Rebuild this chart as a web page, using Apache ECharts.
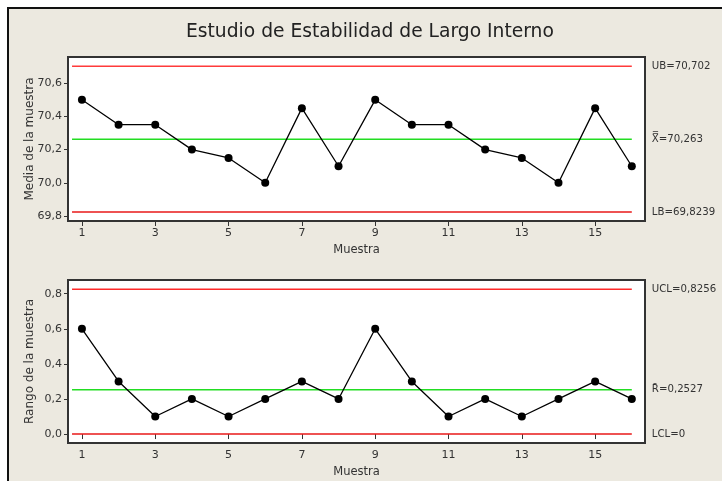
<!DOCTYPE html>
<html>
<head>
<meta charset="utf-8">
<script src="https://cdn.jsdelivr.net/npm/echarts@6/dist/echarts.min.js"></script>
<style>
  html, body { margin: 0; padding: 0; background: #ffffff; }
  #frame { position: absolute; left: 7px; top: 7px; width: 715px; height: 474px;
           border-left: 2px solid #111; border-top: 2px solid #111; box-sizing: border-box; background: #ece9e0; }
  #chart { position: absolute; left: 0; top: 0; width: 722px; height: 481px; }
</style>
</head>
<body>
<div id="frame"></div>
<div id="chart"></div>
<script>
// Sample numbers (subgroups)
const samples = [1, 2, 3, 4, 5, 6, 7, 8, 9, 10, 11, 12, 13, 14, 15, 16];
// Subgroup means
const means = [70.5, 70.35, 70.35, 70.2, 70.15, 70.0, 70.45, 70.1,
               70.5, 70.35, 70.35, 70.2, 70.15, 70.0, 70.45, 70.1];
// Subgroup ranges
const ranges = [0.6, 0.3, 0.1, 0.2, 0.1, 0.2, 0.3, 0.2,
                0.6, 0.3, 0.1, 0.2, 0.1, 0.2, 0.3, 0.2];
// Control limits for the means chart
const meanLimits = { ub: 70.702, center: 70.263, lb: 69.8239 };
// Control limits for the range chart
const rangeLimits = { ucl: 0.8256, center: 0.2527, lcl: 0 };
// Tick labels
const xTicks = [1, 3, 5, 7, 9, 11, 13, 15];
const meanTicks = [69.8, 70.0, 70.2, 70.4, 70.6];
const rangeTicks = [0.0, 0.2, 0.4, 0.6, 0.8];
// Where the limit lines start/end along the sample axis
const limitSpan = [0.73, 16];

const FONT = 'DejaVu Sans';
const textColor = '#333';
const comma = v => v.toFixed(1).replace('.', ',');

function limitLine(gridIdx, value, color, label) {
  return {
    type: 'line', xAxisIndex: gridIdx, yAxisIndex: gridIdx,
    data: [[limitSpan[0], value], [limitSpan[1], value]],
    symbol: 'none', silent: true, animation: false,
    lineStyle: { color: color, width: 1.5 },
    endLabel: { show: true, formatter: label, distance: 20,
                color: textColor, fontSize: 10.2, fontFamily: FONT }
  };
}

function dataLine(gridIdx, values) {
  return {
    type: 'line', xAxisIndex: gridIdx, yAxisIndex: gridIdx,
    data: samples.map((s, i) => [s, values[i]]),
    symbol: 'circle', symbolSize: 8, animation: false,
    itemStyle: { color: '#000' },
    lineStyle: { color: '#000', width: 1.3 }
  };
}

function xAxis(gridIdx) {
  return {
    type: 'value', gridIndex: gridIdx, min: 0.62, max: 16.36,
    name: 'Muestra', nameLocation: 'middle', nameGap: 23, nameMoveOverlap: false,
    nameTextStyle: { color: textColor, fontSize: 11.5, fontFamily: FONT },
    axisLine: { show: false },
    splitLine: { show: false },
    axisTick: { show: true, length: 5, customValues: xTicks, lineStyle: { color: '#333' } },
    axisLabel: { customValues: xTicks, color: textColor, fontSize: 11, fontFamily: FONT, margin: 7 }
  };
}

function yAxis(gridIdx, name, min, max, ticks) {
  return {
    type: 'value', gridIndex: gridIdx, min: min, max: max,
    name: name, nameLocation: 'middle', nameGap: 32, nameMoveOverlap: false,
    nameTextStyle: { color: textColor, fontSize: 12, fontFamily: FONT },
    axisLine: { show: false },
    splitLine: { show: false },
    axisTick: { show: true, length: 4, customValues: ticks, lineStyle: { color: '#333' } },
    axisLabel: { customValues: ticks, formatter: comma, color: textColor,
                 fontSize: 11, fontFamily: FONT, margin: 6 }
  };
}

const chart = echarts.init(document.getElementById('chart'), null, { renderer: 'canvas' });
chart.setOption({
  backgroundColor: 'transparent',
  title: {
    text: 'Estudio de Estabilidad de Largo Interno',
    left: 181, top: 18,
    textStyle: { color: '#222', fontSize: 18.7, fontWeight: 'normal', fontFamily: FONT }
  },
  grid: [
    { left: 68, top: 57, width: 577, height: 164, show: true,
      backgroundColor: '#fff', borderColor: '#333', borderWidth: 2 },
    { left: 68, top: 280, width: 577, height: 163, show: true,
      backgroundColor: '#fff', borderColor: '#333', borderWidth: 2 }
  ],
  xAxis: [xAxis(0), xAxis(1)],
  yAxis: [
    yAxis(0, 'Media de la muestra', 69.77, 70.758, meanTicks),
    yAxis(1, 'Rango de la muestra', -0.051, 0.878, rangeTicks)
  ],
  series: [
    limitLine(0, meanLimits.ub, '#ff3b3b', 'UB=70,702'),
    limitLine(0, meanLimits.center, '#22dd22', 'X\u033F=70,263'),
    limitLine(0, meanLimits.lb, '#e81818', 'LB=69,8239'),
    dataLine(0, means),
    limitLine(1, rangeLimits.ucl, '#ff2a2a', 'UCL=0,8256'),
    limitLine(1, rangeLimits.center, '#22dd22', 'R\u0304=0,2527'),
    limitLine(1, rangeLimits.lcl, '#e81818', 'LCL=0'),
    dataLine(1, ranges)
  ]
});
</script>
</body>
</html>
